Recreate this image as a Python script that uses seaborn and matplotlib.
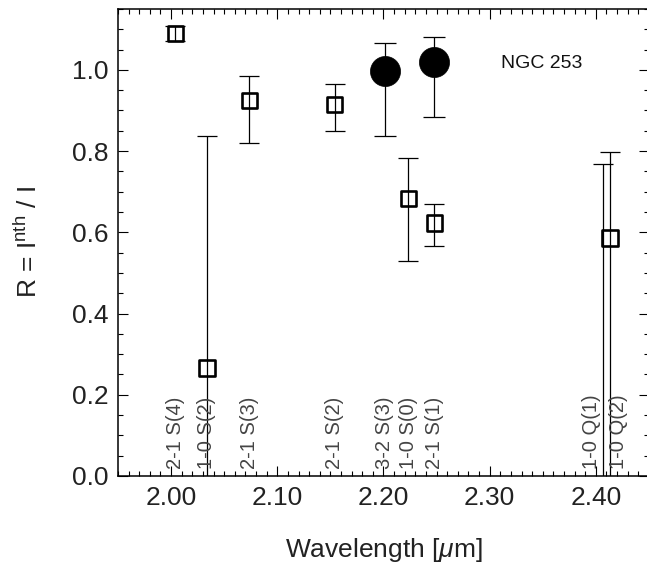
import numpy as np
import pandas as pd
import matplotlib
matplotlib.use("Agg")
import matplotlib.pyplot as plt
from matplotlib.ticker import MultipleLocator, FormatStrFormatter
import seaborn as sns

# ---- data ----
sq_lines = ["2-1 S(4)", "1-0 S(2)", "2-1 S(3)", "2-1 S(2)", "1-0 S(0)", "2-1 S(1)", "1-0 Q(1)", "1-0 Q(2)"]
sq_wl = [2.0041, 2.0338, 2.0735, 2.1542, 2.2235, 2.2477, 2.4066, 2.4134]
sq_R = [1.089, 0.266, 0.924, 0.915, 0.684, 0.623, -0.05, 0.586]
sq_err_lo = [0.017, 0.570, 0.104, 0.065, 0.155, 0.057, 0.818, 0.800]
sq_err_hi = [0.018, 0.570, 0.062, 0.049, 0.099, 0.047, 0.818, 0.211]

ci_lines = ["3-2 S(3)", "2-1 S(1)"]
ci_wl = [2.2014, 2.2477]
ci_R = [0.998, 1.020]
ci_err_lo = [0.162, 0.137]
ci_err_hi = [0.069, 0.060]

label_text = ["2-1 S(4)", "1-0 S(2)", "2-1 S(3)", "2-1 S(2)", "3-2 S(3)", "1-0 S(0)", "2-1 S(1)", "1-0 Q(1)", "1-0 Q(2)"]
label_wl = [2.0041, 2.0338, 2.0735, 2.1542, 2.2014, 2.2235, 2.2477, 2.3955, 2.4217]

sq = pd.DataFrame({"wl": sq_wl, "R": sq_R})
ci = pd.DataFrame({"wl": ci_wl, "R": ci_R})

# ---- style ----
sns.set_theme(style="ticks")
plt.rcParams["font.family"] = ["Liberation Sans", "DejaVu Sans"]
plt.rcParams["mathtext.fontset"] = "custom"
plt.rcParams["mathtext.rm"] = "Liberation Sans"
plt.rcParams["mathtext.it"] = "Liberation Sans:italic"
plt.rcParams["mathtext.sf"] = "Liberation Sans"

fig = plt.figure(figsize=(6.47, 5.78), dpi=100)
ax = fig.add_axes([0.1824, 0.1765, 0.8206, 0.8080])

# error bars
ax.errorbar(sq["wl"], sq["R"], yerr=[sq_err_lo, sq_err_hi], fmt="none",
            ecolor="black", elinewidth=0.9, capsize=7.0, capthick=0.9, zorder=2)
ax.errorbar(ci["wl"], ci["R"], yerr=[ci_err_lo, ci_err_hi], fmt="none",
            ecolor="black", elinewidth=0.9, capsize=8.0, capthick=0.9, zorder=2)

# markers
sns.scatterplot(data=sq, x="wl", y="R", ax=ax, marker="s", s=120,
                facecolor="none", edgecolor="black", linewidth=1.9, zorder=3, legend=False)
sns.scatterplot(data=ci, x="wl", y="R", ax=ax, marker="o", s=470,
                color="black", edgecolor="black", linewidth=0.5, zorder=3, legend=False)

# line labels
for t, w in zip(label_text, label_wl):
    ax.text(w, 0.017, t, rotation=90, ha="center", va="bottom",
            fontsize=14.5, color="#444444", zorder=4)

ax.text(2.3105, 1.015, "NGC 253", fontsize=14, ha="left", va="center", color="#111111")

ax.set_xlim(1.95, 2.45)
ax.set_ylim(0.0, 1.15)
ax.xaxis.set_major_locator(MultipleLocator(0.1))
ax.xaxis.set_minor_locator(MultipleLocator(0.01))
ax.yaxis.set_major_locator(MultipleLocator(0.2))
ax.yaxis.set_minor_locator(MultipleLocator(0.05))
ax.xaxis.set_major_formatter(FormatStrFormatter("%.2f"))
ax.yaxis.set_major_formatter(FormatStrFormatter("%.1f"))

ax.tick_params(which="both", direction="in", top=True, right=True, color="black", width=0.8)
ax.tick_params(which="major", length=7.5, labelsize=19, pad=7, labelcolor="#222222")
ax.tick_params(which="minor", length=3.6)
for s in ax.spines.values():
    s.set_linewidth(1.1)
    s.set_color("black")

ax.set_xlabel("Wavelength [$\\mu$m]", fontsize=19, color="#222222", labelpad=19)
ax.set_ylabel("R = I$^{\\rm nth}$ / I", fontsize=19, color="#222222", labelpad=21)

fig.savefig("out.png", dpi=100)
